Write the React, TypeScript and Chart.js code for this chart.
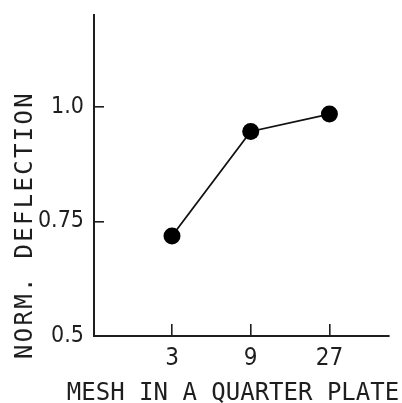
import React, { useEffect, useRef } from "react";
import { Chart, registerables } from "chart.js";

Chart.register(...registerables);

// Mesh density per quarter plate and normalized deflection
const meshLabels: string[] = ["3", "9", "27"];
const deflection: number[] = [0.718, 0.946, 0.984];
const yTickValues: number[] = [0.5, 0.75, 1.0];
const yTickLabels: string[] = ["0.5", "0.75", "1.0"];

const xTitle = "MESH IN A QUARTER PLATE";
const yTitle = "NORM. DEFLECTION";

const INK = "#1e1e1e";
const TICK_FONT = '"Liberation Sans Narrow", "DejaVu Sans Condensed", "DejaVu Sans", sans-serif';
const TITLE_FONT = '"DejaVu Sans Mono", "Liberation Mono", monospace';

const axisTitles = {
  id: "axisTitles",
  afterDraw(chart: any) {
    const ctx = chart.ctx as CanvasRenderingContext2D;
    ctx.save();
    ctx.fillStyle = INK;
    ctx.font = `24px ${TITLE_FONT}`;
    ctx.textBaseline = "alphabetic";
    ctx.textAlign = "left";

    // horizontal title under the axis
    (ctx as any).letterSpacing = "0px";
    const wx = ctx.measureText(xTitle).width;
    ctx.fillText(xTitle, 233 - wx / 2, 400);

    // vertical title on the left
    ctx.translate(32, 225);
    ctx.rotate(-Math.PI / 2);
    (ctx as any).letterSpacing = "2.3px";
    const wy = ctx.measureText(yTitle).width;
    ctx.fillText(yTitle, -wy / 2, 0);
    ctx.restore();
  },
};

export default function App() {
  const canvasRef = useRef<HTMLCanvasElement | null>(null);

  useEffect(() => {
    const canvas = canvasRef.current;
    if (!canvas) return;
    const points = deflection.map((v, i) => ({ x: i, y: v }));
    const chart = new Chart(canvas, {
      type: "line",
      data: {
        datasets: [
          {
            data: points,
            borderColor: "#111",
            borderWidth: 1.8,
            backgroundColor: "#000",
            pointBackgroundColor: "#000",
            pointBorderColor: "#000",
            pointBorderWidth: 0,
            pointRadius: 8.5,
            tension: 0,
          },
        ],
      },
      options: {
        responsive: false,
        animation: false,
        layout: { padding: { top: 15, right: 13, left: 0, bottom: 0 } },
        plugins: {
          legend: { display: false },
          tooltip: { enabled: false },
        },
        scales: {
          x: {
            type: "linear",
            min: -0.991,
            max: 2.757,
            afterBuildTicks: (scale: any) => {
              scale.ticks = meshLabels.map((_, i) => ({ value: i }));
            },
            afterFit: (scale: any) => {
              scale.height = 67;
              scale.paddingLeft = 0;
              scale.paddingRight = 0;
            },
            ticks: {
              autoSkip: false,
              maxRotation: 0,
              padding: 20,
              color: INK,
              font: { family: TICK_FONT, size: 24 },
              callback: (v: any) => meshLabels[Math.round(Number(v))] ?? "",
            },
            grid: {
              drawOnChartArea: false,
              drawTicks: true,
              tickLength: -12,
              color: INK,
              lineWidth: 1.6,
            },
            border: { display: true, color: INK, width: 2 },
          },
          y: {
            type: "linear",
            min: 0.5,
            max: 1.2,
            afterBuildTicks: (scale: any) => {
              scale.ticks = yTickValues.map((v) => ({ value: v }));
            },
            afterFit: (scale: any) => {
              scale.width = 94;
              scale.paddingTop = 0;
              scale.paddingBottom = 0;
            },
            ticks: {
              autoSkip: false,
              padding: 20,
              color: INK,
              font: { family: TICK_FONT, size: 23 },
              callback: (v: any) => {
                const i = yTickValues.findIndex((t) => Math.abs(t - Number(v)) < 1e-6);
                return i >= 0 ? yTickLabels[i] : "";
              },
            },
            grid: {
              drawOnChartArea: false,
              drawTicks: true,
              tickLength: -10,
              color: INK,
              lineWidth: 1.6,
            },
            border: { display: true, color: INK, width: 2 },
          },
        },
      },
      plugins: [axisTitles],
    });
    return () => chart.destroy();
  }, []);

  return (
    <div style={{ position: "fixed", left: 0, top: 0, width: 402, height: 403, background: "#fff" }}>
      <canvas ref={canvasRef} width={402} height={403} style={{ display: "block" }} />
    </div>
  );
}
